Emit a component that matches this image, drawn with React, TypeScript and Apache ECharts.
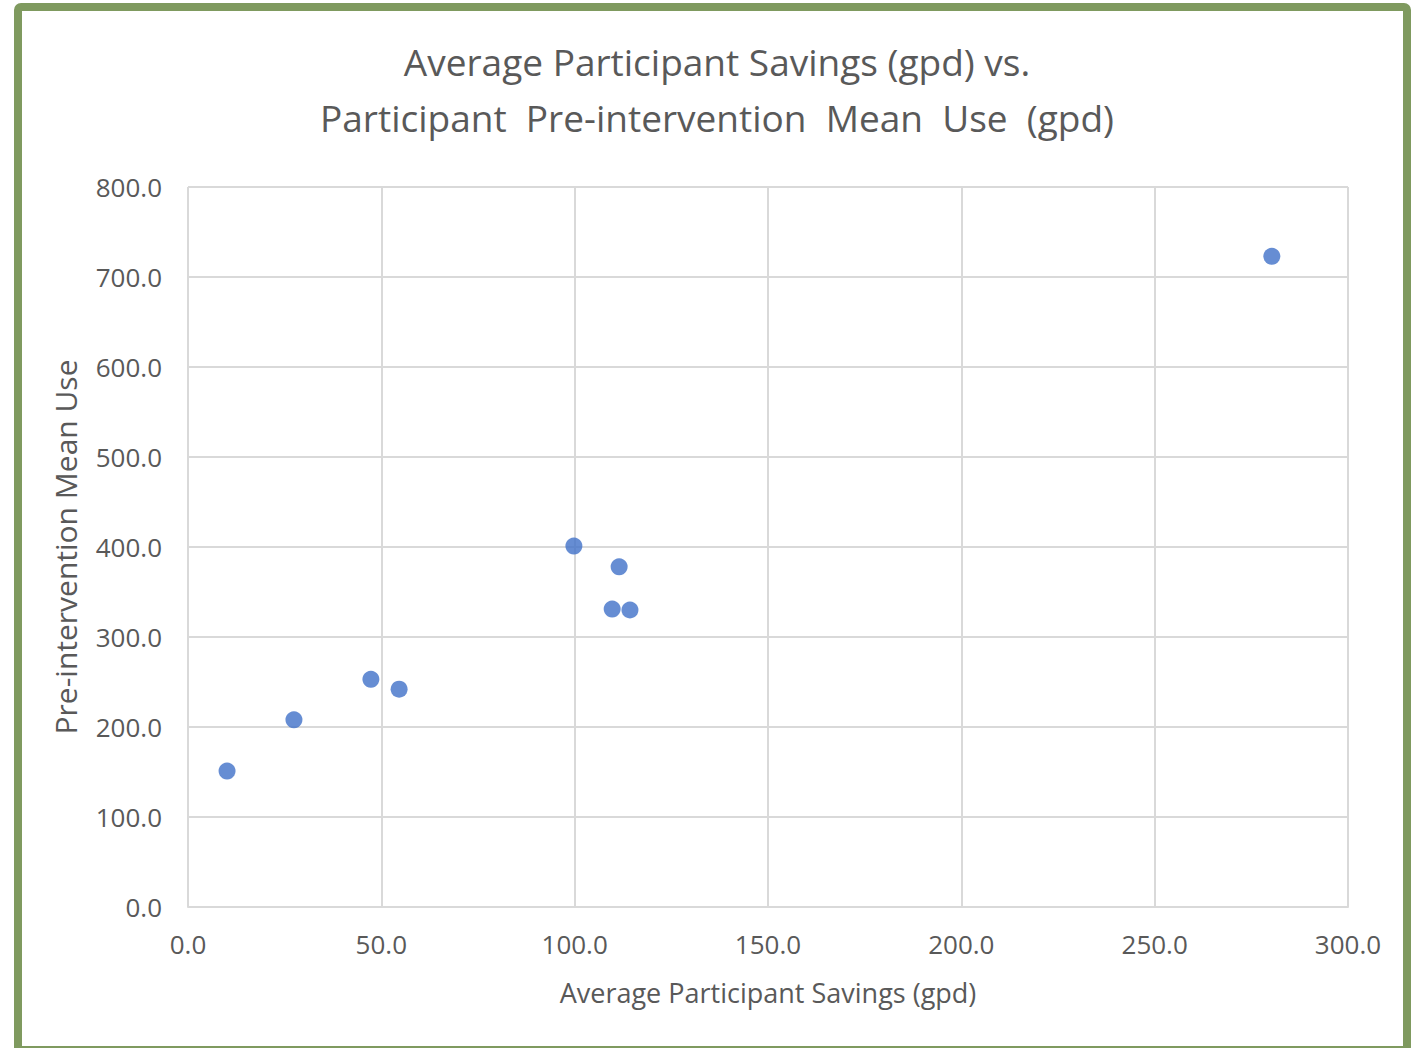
import React, { useEffect, useRef } from "react";
import * as echarts from "echarts";

const titleLines = [
  "Average Participant Savings (gpd) vs.",
  "Participant  Pre-intervention  Mean  Use  (gpd)",
];
const xAxisName = "Average Participant Savings (gpd)";
const yAxisName = "Pre-intervention Mean Use";

const savings = [10.1, 27.4, 47.3, 54.6, 99.8, 111.5, 109.7, 114.3, 280.3];
const meanUse = [151, 208, 253, 242, 401, 378, 331, 330, 723];

export default function App() {
  const ref = useRef<HTMLDivElement>(null);
  useEffect(() => {
    if (!ref.current) return;
    const chart = echarts.init(ref.current, undefined, { renderer: "svg" });
    const font = "'Open Sans', 'Noto Sans', sans-serif";
    const gray = "#595959";
    chart.setOption({
      animation: false,
      backgroundColor: "#ffffff",
      title: {
        text: titleLines.join("\n"),
        left: 712,
        textAlign: "center",
        top: 28,
        textStyle: {
          fontFamily: font,
          fontSize: 37,
          fontWeight: "normal",
          color: gray,
          lineHeight: 56,
        },
      },
      grid: { left: 188, top: 187, right: 71, bottom: 141, containLabel: false },
      xAxis: {
        type: "value",
        min: 0,
        max: 300,
        interval: 50,
        name: xAxisName,
        nameLocation: "middle",
        nameGap: 72,
        nameTextStyle: { fontFamily: font, fontSize: 27, color: gray },
        axisLine: { show: true, lineStyle: { color: "#d9d9d9", width: 2 } },
        axisTick: { show: false },
        axisLabel: {
          fontFamily: font,
          fontSize: 26,
          color: gray,
          margin: 24,
          formatter: (v: number) => v.toFixed(1),
        },
        splitLine: { show: true, lineStyle: { color: "#d9d9d9", width: 2 } },
      },
      yAxis: {
        type: "value",
        min: 0,
        max: 800,
        interval: 100,
        name: yAxisName,
        nameLocation: "middle",
        nameGap: 108,
        nameTextStyle: { fontFamily: font, fontSize: 30, color: gray },
        axisLine: { show: false },
        axisTick: { show: false },
        axisLabel: {
          fontFamily: font,
          fontSize: 26,
          color: gray,
          margin: 26,
          formatter: (v: number) => v.toFixed(1),
        },
        splitLine: { show: true, lineStyle: { color: "#d9d9d9", width: 2 } },
      },
      graphic: [
        {
          type: "rect",
          shape: { x: 18, y: 7, width: 1389, height: 1043, r: 3 },
          style: { fill: "none", stroke: "#7f9a5f", lineWidth: 8 },
          silent: true,
          z: 100,
        },
      ],
      series: [
        {
          type: "scatter",
          data: savings.map((s, i) => [s, meanUse[i]]),
          symbol: "circle",
          symbolSize: 17,
          itemStyle: { color: "#4070c8" },
        },
      ],
    });
    return () => chart.dispose();
  }, []);
  return (
    <div
      ref={ref}
      style={{ position: "absolute", left: 0, top: 0, width: 1419, height: 1048 }}
    />
  );
}
